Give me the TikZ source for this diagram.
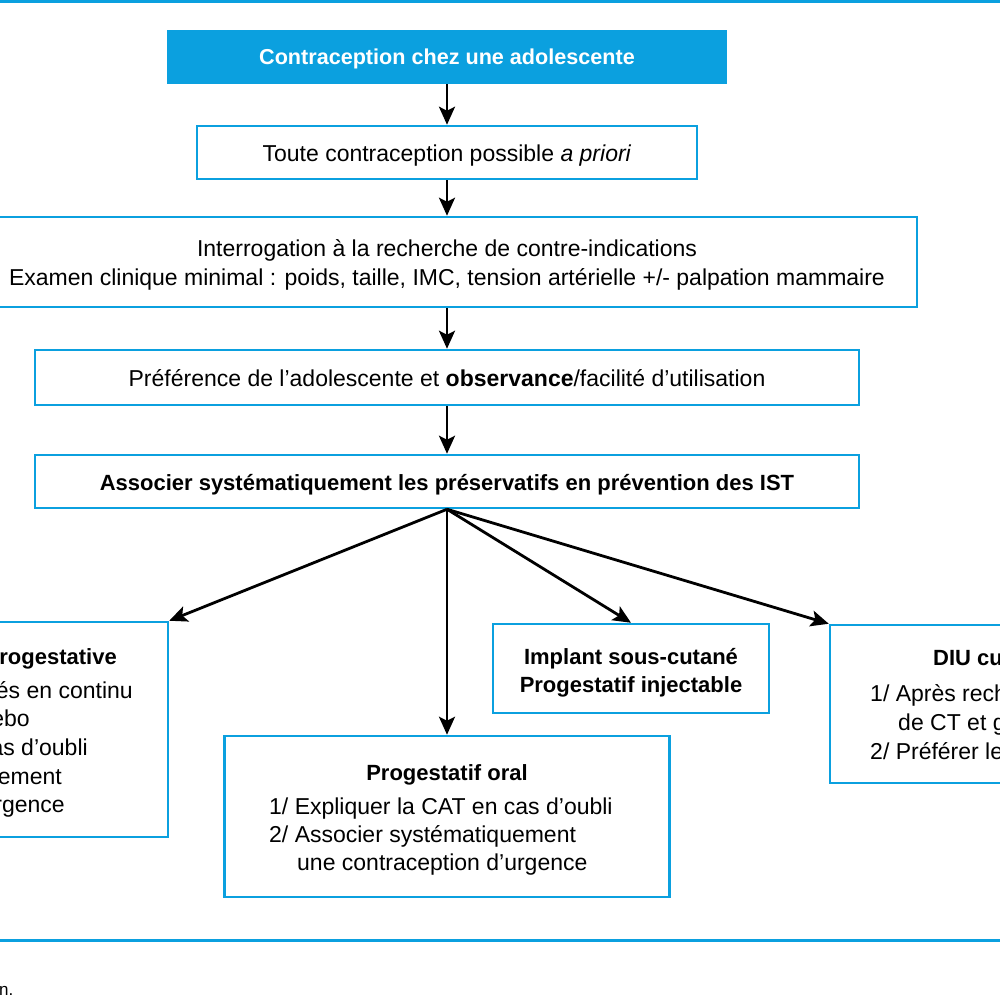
\documentclass[tikz,border=0pt]{standalone}
\usepackage{fontspec}
\setmainfont{Liberation Sans}
\usetikzlibrary{arrows.meta}
\definecolor{cblue}{HTML}{0BA0DF}
\begin{document}
\begin{tikzpicture}[x=1pt,y=-1pt,
  box/.style={draw=cblue, line width=2.5pt, rectangle, inner sep=0pt},
  txt/.style={inner sep=0pt, anchor=base, font=\fontsize{23}{27}\selectfont},
  btxt/.style={inner sep=0pt, anchor=base, font=\fontsize{22}{27}\selectfont\bfseries},
  rule/.style={draw=cblue, line width=3pt},
  arr/.style={line width=2.8pt, -{Stealth[length=18pt,width=16pt,inset=4pt]}}]
\useasboundingbox (0,0) rectangle (1000,1000);
\clip (0,0) rectangle (1000,1000);
\fill[white] (0,0) rectangle (1000,1000);

% rules
\coordinate (r1a) at (0,2); \coordinate (r1b) at (1000,2);
\coordinate (r2a) at (0,940); \coordinate (r2b) at (1000,940);
\draw[rule] (r1a) -- (r1b);
\draw[rule] (r2a) -- (r2b);

% boxes
\node[box, fill=cblue, minimum width=557pt, minimum height=52pt] (t) at (447,57) {};
\node[box, minimum width=500pt, minimum height=53pt] (b2) at (447,152.5) {};
\node[box, minimum width=940pt, minimum height=90pt] (b3) at (447,262) {};
\node[box, minimum width=824pt, minimum height=55pt] (b4) at (447,377.5) {};
\node[box, minimum width=824pt, minimum height=53pt] (b5) at (447,481.5) {};
\node[box, minimum width=468pt, minimum height=215pt] (lb) at (-66,729.5) {};
\node[box, minimum width=276pt, minimum height=89pt] (imp) at (631,668.5) {};
\node[box, minimum width=445pt, minimum height=161pt] (oral) at (447,816.5) {};
\node[box, minimum width=370pt, minimum height=158pt] (diu) at (1015,704) {};

% texts
\node[btxt, text=white, font=\fontsize{21.6}{27}\selectfont\bfseries] (tt) at (447,65) {Contraception chez une adolescente};
\node[txt] (b2t) at (447,161.5) {Toute contraception possible \textit{a priori}};
\node[txt] (b3t1) at (447,256.5) {Interrogation à la recherche de contre-indications};
\node[txt] (b3t2) at (447,285.5) {Examen clinique minimal : poids, taille, IMC, tension artérielle +/- palpation mammaire};
\node[txt] (b4t) at (447,386) {Préférence de l’adolescente et \textbf{observance}/facilité d’utilisation};
\node[btxt] (b5t) at (447,490) {Associer systématiquement les préservatifs en prévention des IST};

\node[btxt, anchor=base east] (l0) at (117,664.5) {Pilule œstroprogestative};
\node[txt, anchor=base east] (l1) at (133,698.5) {1/ Comprimés en continu};
\node[txt, anchor=base east] (l2) at (30,726.5) {sans placebo};
\node[txt, anchor=base east] (l3) at (88,755.5) {2/ Expliquer la CAT en cas d’oubli};
\node[txt, anchor=base east] (l4) at (62,784.5) {3/ Associer systématiquement};
\node[txt, anchor=base east] (l5) at (65,812.5) {une contraception d’urgence};

\node[btxt] (i1) at (631,664.5) {Implant sous-cutané};
\node[btxt] (i2) at (631,692.5) {Progestatif injectable};

\node[btxt] (o0) at (447,780.5) {Progestatif oral};
\node[txt, anchor=base west] (o1) at (269,814.5) {1/ Expliquer la CAT en cas d’oubli};
\node[txt, anchor=base west] (o2) at (269,842.5) {2/ Associer systématiquement};
\node[txt, anchor=base west] (o3) at (297,870.5) {une contraception d’urgence};

\node[btxt, anchor=base west] (d0) at (933,665.5) {DIU cuivre};
\node[txt, anchor=base west] (d1) at (870,701.5) {1/ Après recherche};
\node[txt, anchor=base west] (d2) at (898,730.5) {de CT et gonocoque};
\node[txt, anchor=base west] (d3) at (870,759.5) {2/ Préférer les petits modèles};

\node[txt, anchor=base west, font=\fontsize{17}{20}\selectfont] (cap) at (-1,995) {n.};

% arrows
\draw[arr] (t.south) -- (b2.north);
\draw[arr] (b2.south) -- (b3.north);
\draw[arr] (b3.south) -- (b4.north);
\draw[arr] (b4.south) -- (b5.north);
\draw[arr] (b5.south) -- (lb.north east);
\draw[arr] (b5.south) -- (oral.north);
\draw[arr] (b5.south) -- (imp.north);
\draw[arr] (b5.south) -- (diu.north west);
\end{tikzpicture}
\end{document}
